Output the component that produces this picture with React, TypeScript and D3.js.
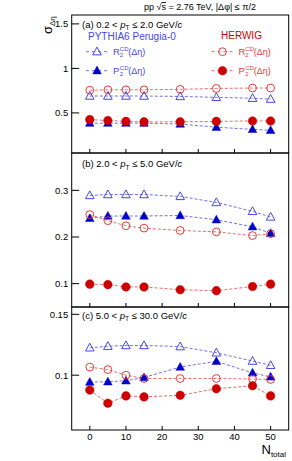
import { useEffect, useRef } from "react";
import * as d3 from "d3";

const nTotal = [0, 5, 10, 15, 25, 35, 45, 50];
const xTicks = [0, 10, 20, 30, 40, 50];

// (a) 0.2 < pT <= 2.0
const pythiaR2A = [0.69, 0.69, 0.69, 0.69, 0.685, 0.675, 0.665, 0.655];
const pythiaP2A = [0.385, 0.385, 0.385, 0.385, 0.375, 0.34, 0.315, 0.305];
const herwigR2A = [0.755, 0.76, 0.76, 0.76, 0.765, 0.775, 0.78, 0.78];
const herwigP2A = [0.425, 0.415, 0.405, 0.4, 0.4, 0.405, 0.41, 0.41];

// (b) 2.0 < pT <= 5.0
const pythiaR2B = [0.289, 0.291, 0.291, 0.291, 0.287, 0.274, 0.255, 0.243];
const pythiaP2B = [0.24, 0.245, 0.245, 0.245, 0.246, 0.237, 0.222, 0.208];
const herwigR2B = [0.248, 0.235, 0.224, 0.219, 0.214, 0.211, 0.203, 0.207];
const herwigP2B = [0.099, 0.098, 0.093, 0.093, 0.087, 0.085, 0.094, 0.099];

// (c) 5.0 < pT <= 30.0
const pythiaR2C = [0.1225, 0.1238, 0.1244, 0.1244, 0.1235, 0.1184, 0.1116, 0.1081];
const pythiaP2C = [0.0943, 0.0946, 0.0954, 0.0981, 0.1067, 0.1114, 0.1019, 0.0986];
const herwigR2C = [0.1067, 0.1046, 0.1, 0.0973, 0.0973, 0.0973, 0.0968, 0.0965];
const herwigP2C = [0.0878, 0.077, 0.083, 0.0822, 0.0835, 0.0889, 0.0913, 0.083];

const yTicksA = [0.5, 1, 1.5];
const yTicksB = [0.1, 0.2, 0.3];
const yTicksC = [0.1, 0.15];

const panelLabels = [
  { tag: "(a) 0.2", hi: "2.0" },
  { tag: "(b) 2.0", hi: "5.0" },
  { tag: "(c) 5.0", hi: "30.0" },
];

const FONT = "'Liberation Sans', Arial, Helvetica, sans-serif";
const BLUE = "#0000cc";
const BLUE_OPEN = "#4646ee";
const BLUE_LINE = "#7272e6";
const RED = "#cc0000";
const RED_OPEN = "#e23b3b";
const RED_LINE = "#ec6c6c";

type Series = { values: number[]; kind: "tri" | "circ"; filled: boolean; color: string; line: string };

const triPath = "M0,-4.6L4.3,3.2L-4.3,3.2Z";

export default function App() {
  const ref = useRef<SVGSVGElement | null>(null);

  useEffect(() => {
    const svg = d3.select(ref.current);
    svg.selectAll("*").remove();
    const W = 292;
    const H = 461;
    svg.attr("width", W).attr("height", H).style("font-family", FONT);

    const left = 71.7;
    const right = 288.7;
    const x = d3.scaleLinear().domain([-5, 55]).range([left, right]);

    const panels = [
      {
        top: 15, bottom: 153, domain: [0.05, 1.6], ticks: yTicksA, labelY: 27.5,
        series: [pythiaR2A, pythiaP2A, herwigR2A, herwigP2A],
      },
      {
        top: 153, bottom: 307, domain: [0.05, 0.38], ticks: yTicksB, labelY: 167,
        series: [pythiaR2B, pythiaP2B, herwigR2B, herwigP2B],
      },
      {
        top: 307, bottom: 430, domain: [0.055, 0.156], ticks: yTicksC, labelY: 318.5,
        series: [pythiaR2C, pythiaP2C, herwigR2C, herwigP2C],
      },
    ];

    const drawMarker = (g: d3.Selection<SVGGElement, unknown, null, undefined>, s: Series, cx: number, cy: number) => {
      if (s.kind === "tri") {
        g.append("path")
          .attr("d", triPath)
          .attr("transform", `translate(${cx},${cy})`)
          .attr("fill", s.filled ? s.color : "none")
          .attr("stroke", s.color)
          .attr("stroke-width", s.filled ? 0.5 : 1);
      } else {
        g.append("circle")
          .attr("cx", cx)
          .attr("cy", cy)
          .attr("r", s.filled ? 4.3 : 3.9)
          .attr("fill", s.filled ? s.color : "none")
          .attr("stroke", s.color)
          .attr("stroke-width", s.filled ? 0.5 : 1);
      }
    };

    panels.forEach((p, pi) => {
      const y = d3.scaleLinear().domain(p.domain).range([p.bottom, p.top]);
      const g = svg.append("g");

      const styles: Omit<Series, "values">[] = [
        { kind: "tri", filled: false, color: BLUE_OPEN, line: BLUE_LINE },
        { kind: "tri", filled: true, color: BLUE, line: BLUE_LINE },
        { kind: "circ", filled: false, color: RED_OPEN, line: RED_LINE },
        { kind: "circ", filled: true, color: RED, line: RED_LINE },
      ];

      const line = d3.line<number>().x((_, i) => x(nTotal[i])).y((d) => y(d));
      styles.forEach((st, si) => {
        g.append("path")
          .attr("d", line(p.series[si]))
          .attr("fill", "none")
          .attr("stroke", st.line)
          .attr("stroke-width", 1)
          .attr("stroke-dasharray", "3,2");
      });
      styles.forEach((st, si) => {
        p.series[si].forEach((v, i) => drawMarker(g, { ...st, values: p.series[si] }, x(nTotal[i]), y(v)));
      });

      // frame
      g.append("rect")
        .attr("x", left)
        .attr("y", p.top)
        .attr("width", right - left)
        .attr("height", p.bottom - p.top)
        .attr("fill", "none")
        .attr("stroke", "#000")
        .attr("stroke-width", 1);

      // y ticks (inward)
      p.ticks.forEach((t) => {
        g.append("line")
          .attr("x1", left).attr("x2", left + 7.5)
          .attr("y1", y(t)).attr("y2", y(t))
          .attr("stroke", "#000");
        g.append("text")
          .attr("x", left - 3.5)
          .attr("y", y(t))
          .attr("dy", "0.35em")
          .attr("text-anchor", "end")
          .attr("font-size", 9.5)
          .text(d3.format("~g")(t));
      });

      // x ticks (inward, bottom)
      xTicks.forEach((t) => {
        g.append("line")
          .attr("x1", x(t)).attr("x2", x(t))
          .attr("y1", p.bottom).attr("y2", p.bottom - 4)
          .attr("stroke", "#000");
      });

      // panel label
      const pl = panelLabels[pi];
      const lt = g.append("text").attr("x", 82).attr("y", p.labelY).attr("font-size", 9.5);
      lt.append("tspan").text(`${pl.tag} < `);
      lt.append("tspan").attr("font-style", "italic").text("p");
      lt.append("tspan").attr("font-size", 6.5).attr("dy", 2.5).text("T");
      lt.append("tspan").attr("dy", -2.5).text(` ≤ ${pl.hi} GeV/`);
      lt.append("tspan").attr("font-style", "italic").text("c");
    });

    // x tick labels
    xTicks.forEach((t) => {
      svg.append("text")
        .attr("x", x(t))
        .attr("y", 436.5)
        .attr("dy", "0.35em")
        .attr("text-anchor", "middle")
        .attr("font-size", 9.5)
        .text(t);
    });

    // x title
    const xt = svg.append("text").attr("x", 261.5).attr("y", 454).attr("font-size", 13);
    xt.append("tspan").text("N");
    xt.append("tspan").attr("font-size", 8).attr("dy", 2.5).text("total");

    // y title
    const yt = svg.append("text").attr("transform", "translate(52,34) rotate(-90)").attr("font-size", 13);
    yt.append("tspan").text("σ");
    yt.append("tspan").attr("font-size", 8).attr("dy", 2.5).text("Δη");

    // title
    const tt = svg.append("text").attr("x", 200).attr("y", 10).attr("text-anchor", "middle").attr("font-size", 9);
    tt.append("tspan").text("pp √");
    tt.append("tspan").attr("text-decoration", "overline").text("s");
    tt.append("tspan").text(" = 2.76 TeV, |Δφ| ≤ π/2");

    // legend
    svg.append("text").attr("x", 88).attr("y", 40).attr("font-size", 10).attr("fill", BLUE_OPEN).text("PYTHIA6 Perugia-0");
    svg.append("text").attr("x", 221).attr("y", 38.5).attr("font-size", 10).attr("fill", RED).text("HERWIG");

    const legendRow = (x0: number, yy: number, st: Series, letter: string, tcol: string) => {
      const lg = svg.append("g") as d3.Selection<SVGGElement, unknown, null, undefined>;
      lg.append("line")
        .attr("x1", x0 - 11).attr("x2", x0 + 11)
        .attr("y1", yy).attr("y2", yy)
        .attr("stroke", st.line)
        .attr("stroke-dasharray", "3,3");
      drawMarker(lg, st, x0, yy);
      const tx = x0 + 16;
      lg.append("text").attr("x", tx).attr("y", yy + 3.5).attr("font-size", 9.5).attr("fill", tcol).text(letter);
      lg.append("text").attr("x", tx + 6.8).attr("y", yy - 0.5).attr("font-size", 6).attr("fill", tcol).text("CD");
      lg.append("text").attr("x", tx + 6.8).attr("y", yy + 5.5).attr("font-size", 6).attr("fill", tcol).text("2");
      lg.append("text").attr("x", tx + 15.3).attr("y", yy + 3.5).attr("font-size", 9).attr("fill", tcol).text("(Δη)");
    };
    legendRow(97, 51.7, { values: [], kind: "tri", filled: false, color: BLUE_OPEN, line: BLUE_LINE }, "R", BLUE_OPEN);
    legendRow(97, 70.7, { values: [], kind: "tri", filled: true, color: BLUE, line: BLUE_LINE }, "P", BLUE_OPEN);
    legendRow(222.5, 51.7, { values: [], kind: "circ", filled: false, color: RED_OPEN, line: RED_LINE }, "R", RED_OPEN);
    legendRow(222.5, 70.7, { values: [], kind: "circ", filled: true, color: RED, line: RED_LINE }, "P", RED_OPEN);
  }, []);

  return (
    <div style={{ position: "absolute", left: 0, top: 0 }}>
      <svg ref={ref} style={{ display: "block" }} />
    </div>
  );
}
